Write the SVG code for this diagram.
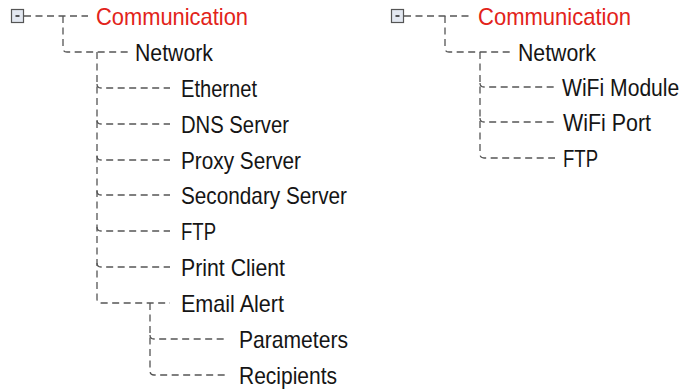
<svg xmlns="http://www.w3.org/2000/svg" width="686" height="389" viewBox="0 0 686 389">
<style>
.c{fill:none;stroke:#555;stroke-width:1.3;stroke-dasharray:7 4.5}
.t{font-family:"Liberation Sans",Arial,sans-serif;font-size:24px;fill:#151515}
.r{fill:#e2231a}
.box{fill:#e3e8f1;stroke:#555;stroke-width:1.2}
.minus{stroke:#222;stroke-width:1.5}
</style>
<rect width="686" height="389" fill="#fff"/>
<g id="connectors">
<!-- left tree -->
<path class="c" d="M24 16H88"/>
<path class="c" d="M63 16V48Q63 52 67 52H128"/>
<path class="c" d="M97 52V299Q97 303 101 303H170"/>
<path class="c" d="M97 84Q97 88 101 88H170"/>
<path class="c" d="M97 120Q97 124 101 124H170"/>
<path class="c" d="M97 156Q97 160 101 160H170"/>
<path class="c" d="M97 191Q97 195 101 195H170"/>
<path class="c" d="M97 227Q97 231 101 231H170"/>
<path class="c" d="M97 263Q97 267 101 267H170"/>
<path class="c" d="M150 303V371Q150 375 154 375H228"/>
<path class="c" d="M150 335Q150 339 154 339H228"/>
<!-- right tree -->
<path class="c" d="M404 16H470"/>
<path class="c" d="M445 16V48Q445 52 449 52H510"/>
<path class="c" d="M480 52V154Q480 158 484 158H555"/>
<path class="c" d="M480 83Q480 87 484 87H555"/>
<path class="c" d="M480 118Q480 122 484 122H555"/>
</g>
<g id="left-toggle"><rect class="box" x="11.5" y="9.5" width="12" height="13"/><path class="minus" d="M15.5 16H19.5"/></g>
<g id="left-communication"><text class="t r" x="96" y="24.5" textLength="152" lengthAdjust="spacingAndGlyphs">Communication</text></g>
<g id="left-network"><text class="t" x="135" y="60.5" textLength="78" lengthAdjust="spacingAndGlyphs">Network</text></g>
<g id="ethernet"><text class="t" x="181" y="96.5" textLength="76" lengthAdjust="spacingAndGlyphs">Ethernet</text></g>
<g id="dns-server"><text class="t" x="181" y="132.5" textLength="108" lengthAdjust="spacingAndGlyphs">DNS Server</text></g>
<g id="proxy-server"><text class="t" x="181" y="168.5" textLength="120" lengthAdjust="spacingAndGlyphs">Proxy Server</text></g>
<g id="secondary-server"><text class="t" x="181" y="204" textLength="166" lengthAdjust="spacingAndGlyphs">Secondary Server</text></g>
<g id="left-ftp"><text class="t" x="181" y="240" textLength="35" lengthAdjust="spacingAndGlyphs">FTP</text></g>
<g id="print-client"><text class="t" x="181" y="276" textLength="104" lengthAdjust="spacingAndGlyphs">Print Client</text></g>
<g id="email-alert"><text class="t" x="181" y="312" textLength="103" lengthAdjust="spacingAndGlyphs">Email Alert</text></g>
<g id="parameters"><text class="t" x="239" y="348" textLength="109" lengthAdjust="spacingAndGlyphs">Parameters</text></g>
<g id="recipients"><text class="t" x="239" y="384" textLength="98" lengthAdjust="spacingAndGlyphs">Recipients</text></g>
<g id="right-toggle"><rect class="box" x="391.5" y="9.5" width="12" height="13"/><path class="minus" d="M395.5 16H399.5"/></g>
<g id="right-communication"><text class="t r" x="478" y="24.5" textLength="153" lengthAdjust="spacingAndGlyphs">Communication</text></g>
<g id="right-network"><text class="t" x="518" y="60.5" textLength="78" lengthAdjust="spacingAndGlyphs">Network</text></g>
<g id="wifi-module"><text class="t" transform="translate(562 95.5) scale(0.88 1)">WiFi Module</text></g>
<g id="wifi-port"><text class="t" x="563" y="130.5" textLength="88" lengthAdjust="spacingAndGlyphs">WiFi Port</text></g>
<g id="right-ftp"><text class="t" x="563" y="166.5" textLength="35" lengthAdjust="spacingAndGlyphs">FTP</text></g>
</svg>
